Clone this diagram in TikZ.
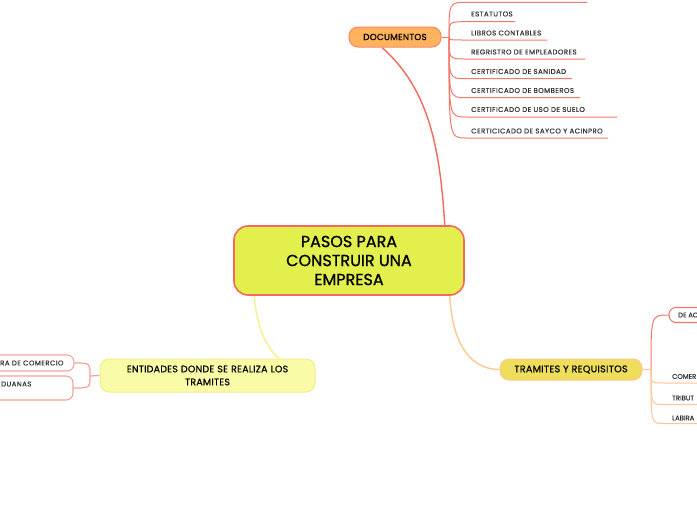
\documentclass[tikz,border=0pt]{standalone}
\usepackage{fontspec}
\setmainfont{Poppins}
\newfontfamily\medfont{Poppins}[FakeBold=0.9]
\newfontfamily\topfont{Poppins}[FakeBold=0.7,LetterSpace=3]
\newfontfamily\leaffont{Poppins}[LetterSpace=6,FakeBold=0.3]
\newfontfamily\edgefont{Poppins}[FakeBold=0.3]
\usetikzlibrary{backgrounds}
\definecolor{cMain}{HTML}{E2EF4C}
\definecolor{cMainB}{HTML}{F4695C}
\definecolor{cDoc}{HTML}{FFB35D}
\definecolor{cDocB}{HTML}{F7876A}
\definecolor{cTra}{HTML}{EFDD5C}
\definecolor{cTraB}{HTML}{FFC890}
\definecolor{cEnt}{HTML}{FAFBA7}
\definecolor{cEntB}{HTML}{F3EE8D}
\definecolor{cRed}{HTML}{F6786D}
\definecolor{cPink}{HTML}{F5A29C}
\definecolor{cOra}{HTML}{FFC497}
\definecolor{cYel}{HTML}{F8F08A}
\definecolor{cTxt}{HTML}{333333}
\tikzset{
  mainnode/.style={draw=cMainB, line width=1.6pt, fill=cMain, rounded corners=14pt,
    minimum width=230pt, minimum height=69pt, align=center, inner sep=0pt,
    font=\medfont\fontsize{16}{19}\selectfont, text=black},
  topic/.style={line width=1pt, rounded corners=9pt, align=center, inner sep=0pt,
    text=black},
  leaf/.style={anchor=west, inner sep=0pt, font=\leaffont\fontsize{7}{8}\selectfont, text=cTxt},
  edgeleaf/.style={anchor=west, inner sep=0pt, font=\edgefont\fontsize{6.8}{8}\selectfont, text=cTxt},
  leafbox/.style={draw=cPink, line width=1.1pt, fill=white, rounded corners=7pt, inner sep=0pt},
  redline/.style={draw=cRed, line width=1pt},
  oraline/.style={draw=cOra, line width=1pt},
  pinkline/.style={draw=cPink, line width=1.2pt},
}
\begin{document}
\begin{tikzpicture}[x=1pt,y=-1pt]
\useasboundingbox (0,0) rectangle (697,520);
\clip (0,0) rectangle (697,520);

% main topic nodes
\node[mainnode] (c) at (349,260.5) {PASOS PARA\\CONSTRUIR UNA\\EMPRESA};
\node[topic, draw=cDocB, fill=cDoc, minimum width=92pt, minimum height=20pt,
  font=\topfont\fontsize{8.8}{10}\selectfont] (d) at (395,37) {DOCUMENTOS};
\node[topic, draw=cTraB, fill=cTra, minimum width=142pt, minimum height=21pt,
  font=\topfont\fontsize{9.6}{10}\selectfont] (t) at (571,369.5) {TRAMITES Y REQUISITOS};
\node[topic, draw=cEntB, fill=cEnt, minimum width=215pt, minimum height=33pt, text width=205pt,
  font=\topfont\fontsize{9.4}{13}\selectfont] (e) at (207.5,375.5) {ENTIDADES DONDE SE REALIZA LOS\\TRAMITES};

% left boxes
\node[leafbox, minimum width=120pt, minimum height=16pt] (b1) at (14,363) {};
\node[leafbox, minimum width=120pt, minimum height=24pt] (b2) at (13,388) {};
\node[leaf] (b1t) at (0,363) {RA DE COMERCIO};
\node[leaf] (b2t) at (1,384) {DUANAS};

% right box and texts
\node[leafbox, draw=cRed, minimum width=80pt, minimum height=15pt] (r1) at (709,315) {};
\node[edgeleaf] (r1t) at (678,315) {DE AC};
\node[edgeleaf] (r2t) at (672,376.5) {COMER};
\node[edgeleaf] (r3t) at (672,398) {TRIBUT};
\node[edgeleaf] (r4t) at (672,418) {LABIRA};

% documentos leaves
\node[leaf] (l1) at (471,14) {ESTATUTOS};
\node[leaf] (l2) at (471,33) {LIBROS CONTABLES};
\node[leaf] (l3) at (471,52) {REGRISTRO DE EMPLEADORES};
\node[leaf] (l4) at (471,71.5) {CERTIFICADO DE SANIDAD};
\node[leaf] (l5) at (471,90.5) {CERTIFICADO DE BOMBEROS};
\node[leaf] (l6) at (471,109.5) {CERTIFICADO DE USO DE SUELO};
\node[leaf] (l7) at (471,131) {CERTICICADO DE SAYCO Y ACINPRO};

% coordinates
\coordinate (dh) at (449,37);
\coordinate (th) at (651,369.5);
\coordinate (eh) at (90,376);
\coordinate (s0) at (467,2.3);
\coordinate (e0) at (587,2.3);
\coordinate (e1) at (515,21.7);
\coordinate (e2) at (547,40);
\coordinate (e3) at (585,59);
\coordinate (e4) at (572,78.7);
\coordinate (e5) at (580,97.7);
\coordinate (e6) at (617,117);
\coordinate (e7) at (608,138);
\coordinate (rr2) at (697,383);
\coordinate (rr3) at (697,404.5);
\coordinate (rr4) at (697,423.5);

\begin{scope}[on background layer]
\fill[white] (0,0) rectangle (697,520);
% central connectors
\draw[cMainB, line width=1.4pt] ([xshift=-20pt]c.north east)
  .. controls (440,150) and (430,90) .. ([xshift=-13pt]d.south);
\draw[cTraB, line width=1.4pt] ([xshift=-15pt]c.south east) .. controls (452,340) and (468,369.5) .. (t.west);
\draw[cYel, line width=1.4pt] ([xshift=21pt]c.south west) .. controls (257,330) and (268,350) .. ([xshift=180pt]e.north west);
% documentos branches
\draw[redline] (d.east) -- (dh);
\draw[redline] (dh) .. controls (dh |- s0) .. (s0) -- (e0);
\foreach \i in {1,...,7}{
  \draw[redline] (dh) .. controls (dh |- e\i) .. ([xshift=-5pt]l\i.west |- e\i) -- (e\i);
}
% tramites branches
\draw[oraline] (t.east) -- (th);
\draw[redline] (th) .. controls (th |- r1.west) .. (r1.west);
\foreach \i in {2,3,4}{
  \draw[oraline] (th) .. controls (th |- rr\i) .. ([xshift=-9pt]r\i t.west |- rr\i) -- (rr\i);
}
% entidades branches
\draw[pinkline] (e.west) -- (eh);
\draw[pinkline] (eh) .. controls (eh |- b1.east) .. (b1.east);
\draw[pinkline] (eh) .. controls (eh |- b2.east) .. (b2.east);
\end{scope}
\end{tikzpicture}
\end{document}
